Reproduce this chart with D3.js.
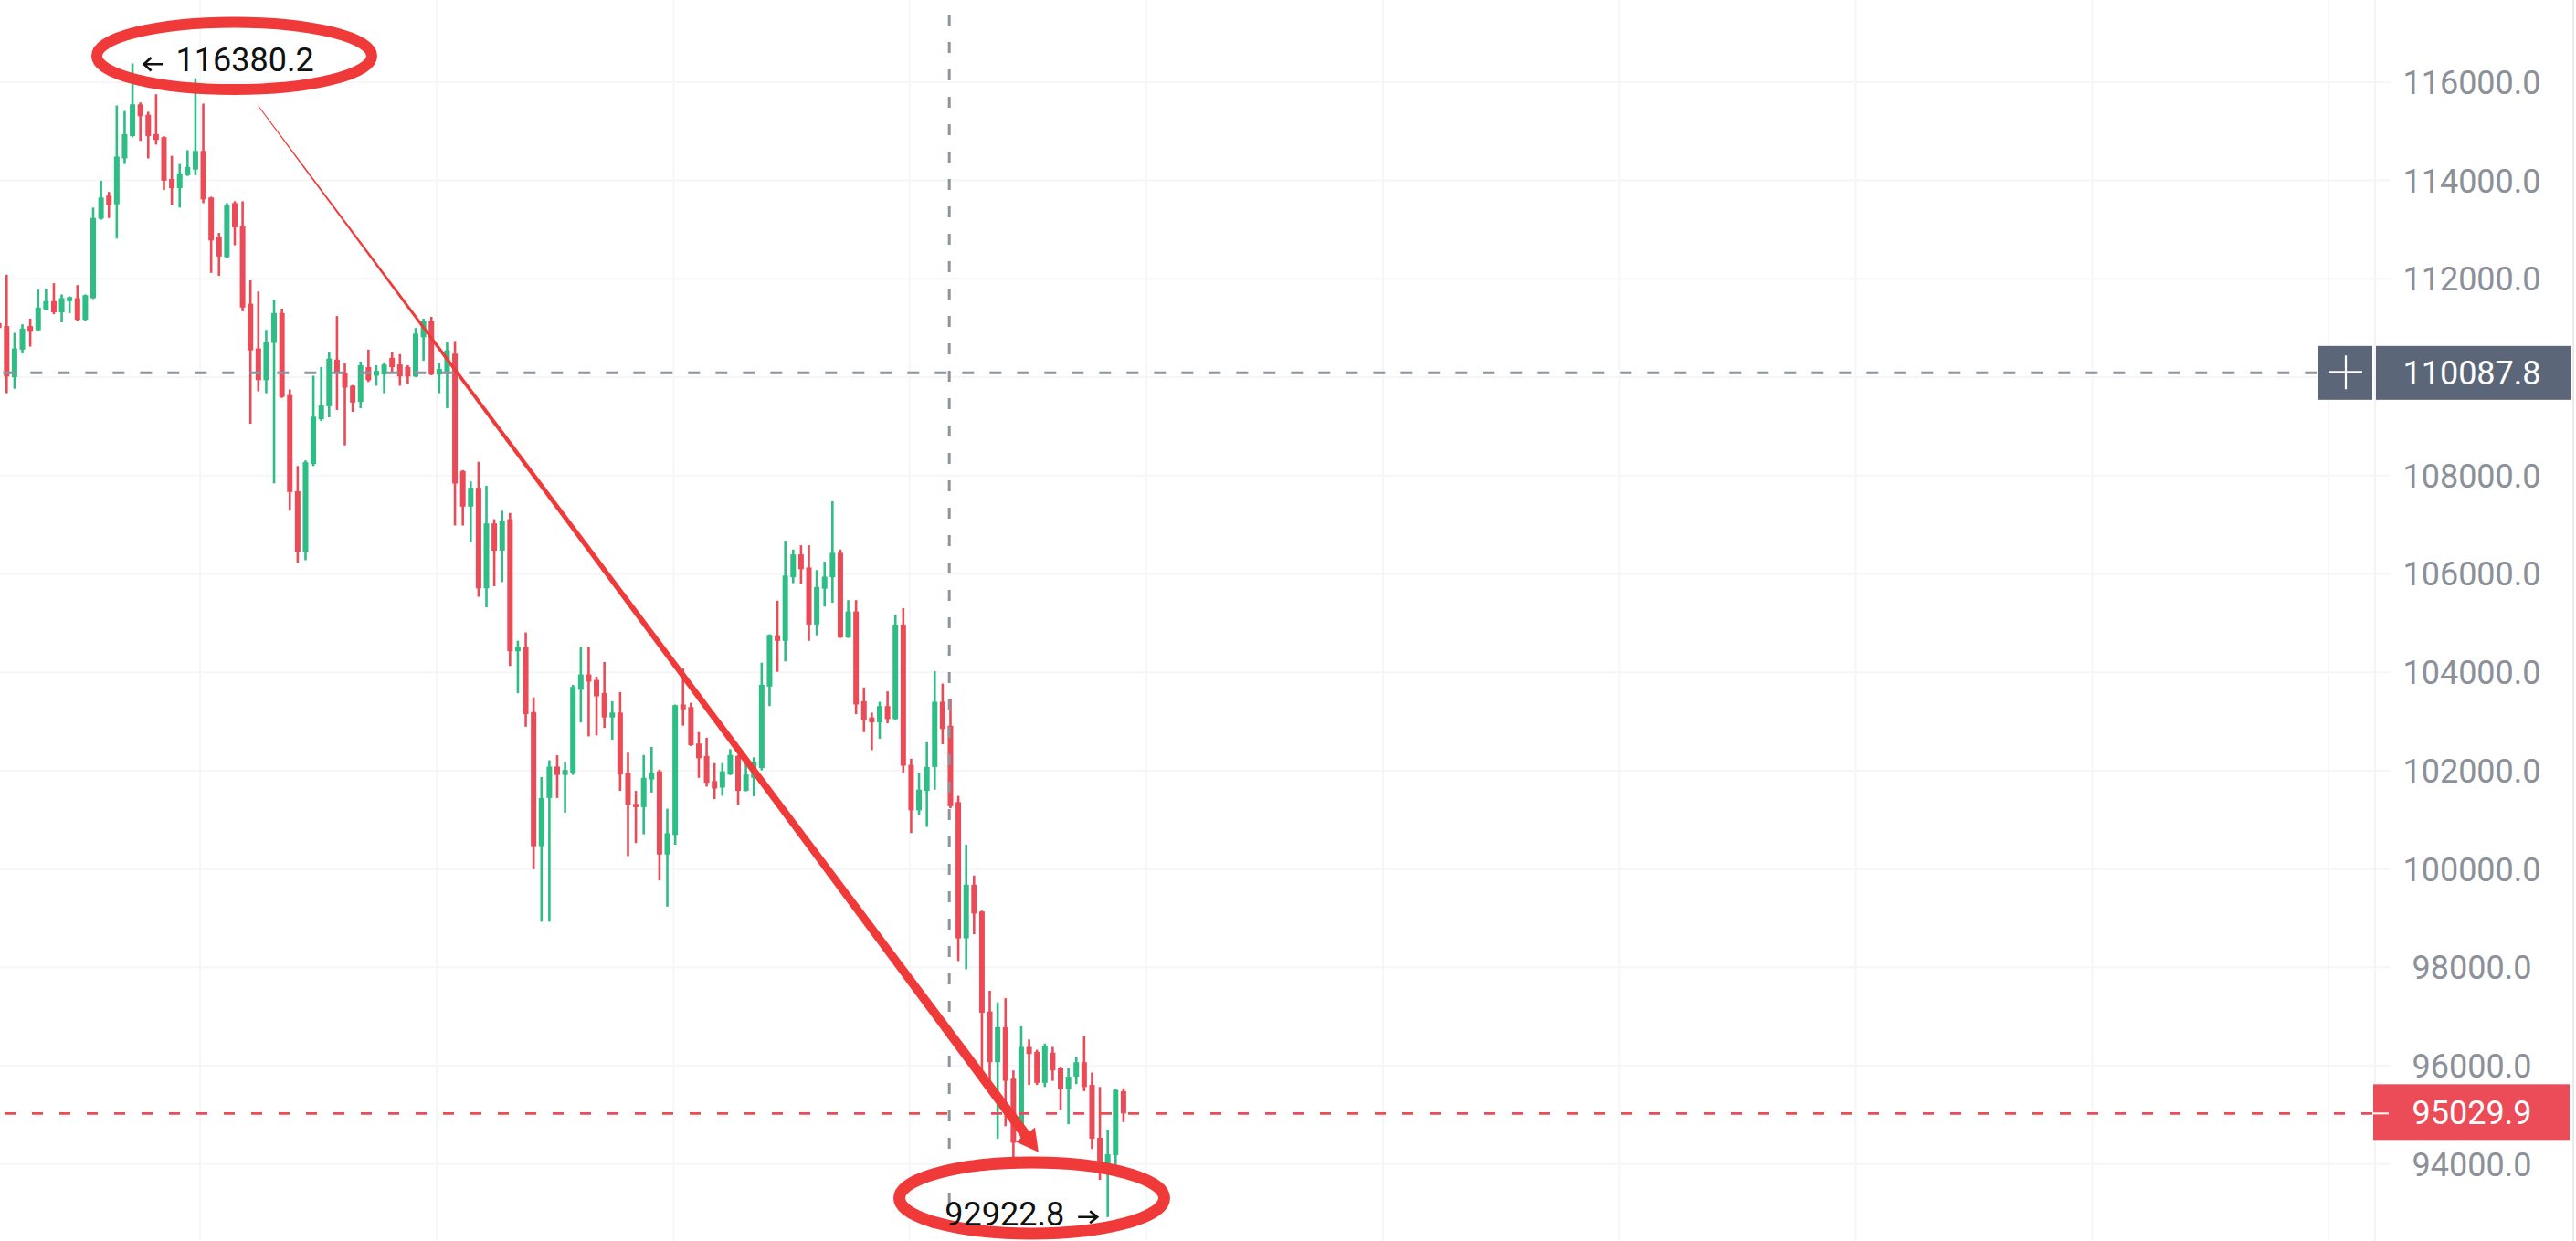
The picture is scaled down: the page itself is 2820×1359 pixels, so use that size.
<!DOCTYPE html>
<html>
<head>
<meta charset="utf-8">
<script src="https://cdn.jsdelivr.net/npm/d3@7"></script>
<style>
  html, body { margin: 0; padding: 0; background: #ffffff; overflow: hidden; }
  svg { display: block; }
</style>
</head>
<body>
<svg id="chart" width="2820" height="1359"></svg>
<script>
// ---------------- DATA ----------------
// candle index of the first entry (partially visible candle at the left edge)
const firstIndex = -1;

const opens = [
  111100, 111038, 110000, 110561, 111038, 110955, 111379, 111546, 111319, 111546,
  111607, 111167, 111607, 113221, 113691, 113516, 114448, 114903, 115547, 115335,
  114941, 114880, 114031, 113842, 114107, 114221, 114600, 113653, 112857, 112440,
  113539, 113084, 111493, 110584, 109939, 110697, 111304, 109636, 107681, 106453,
  108234, 109144, 109409, 110356, 110091, 109826, 109500, 110205, 110030, 110053,
  110394, 110258, 110205, 110015, 110811, 111152, 110053, 110091, 110479, 108093,
  107368, 107752, 105706, 107027, 106473, 107112, 104427, 104513, 103191, 100464,
  101444, 102083, 101913, 101955, 103645, 103956, 103844, 103579, 103081, 103181,
  101954, 101324, 101258, 101821, 101987, 100296, 100694, 103346, 103293, 102551,
  102299, 101788, 101655, 101921, 102299, 101589, 101854, 102053, 103711, 104752,
  104639, 105932, 106397, 106131, 104971, 105700, 105933, 106430, 104706, 105236,
  103413, 103081, 102982, 103313, 103048, 104971, 102117, 101193, 101588, 102075,
  103401, 102914, 101361, 98590, 99682, 99136, 97104, 96072, 96785, 95736,
  94770, 96382, 96282, 95652, 96265, 95946, 95526, 95778, 96072, 95610,
  94535, 93972, 94183, 95484
];
const highs = [
  111150, 112084, 110902, 111076, 111190, 111781, 111796, 111910, 111682, 111645,
  111872, 111682, 113448, 113994, 113766, 115524, 115411, 116380.2, 115585, 115396,
  115752, 114900, 114501, 114335, 114615, 116078, 115562, 113670, 112933, 113539,
  113577, 113577, 111970, 111743, 110963, 111569, 111394, 109750, 108194, 108308,
  110030, 110205, 110508, 111243, 110280, 109840, 110318, 110561, 110243, 110303,
  110508, 110470, 110243, 111000, 111190, 111228, 110280, 110712, 110735, 108110,
  107880, 108280, 107794, 107112, 107283, 107240, 104641, 104811, 103490, 101870,
  102211, 102313, 102168, 103746, 104510, 104510, 103910, 104208, 103413, 103598,
  102365, 101589, 102319, 102484, 102020, 101225, 103346, 104076, 103380, 102783,
  102670, 102153, 102153, 102438, 102319, 102252, 102272, 104195, 104772, 105455,
  106675, 106496, 106582, 106582, 106078, 106251, 107478, 106496, 105468, 105468,
  103691, 103181, 103399, 103612, 105170, 105303, 102243, 101949, 102578, 104023,
  103771, 103460, 101487, 100496, 99867, 99153, 97524, 97289, 97373, 95904,
  96802, 96534, 96324, 96450, 96382, 95962, 95946, 96181, 96601, 95862,
  95568, 94703, 95526, 95542
];
const lows = [
  110950, 109674, 109765, 110485, 110622, 110940, 111357, 111281, 111114, 111303,
  111150, 111152, 111590, 113200, 113236, 112819, 114335, 114880, 114805, 114448,
  114729, 113804, 113501, 113448, 114090, 114107, 113539, 112122, 112061, 112420,
  112683, 111341, 109053, 109712, 109674, 107840, 109580, 107287, 106226, 106279,
  108194, 109106, 109182, 109333, 108614, 109295, 109371, 109902, 109826, 109674,
  110091, 109826, 109864, 110000, 110334, 110040, 109674, 109371, 106985, 106985,
  106643, 105535, 105322, 105749, 105834, 104129, 103575, 102893, 99995, 98929,
  98929, 101444, 101146, 101913, 102980, 102697, 102717, 102869, 102630, 101589,
  100263, 100528, 100707, 101556, 99766, 99235, 100495, 102915, 102498, 101854,
  101675, 101423, 101490, 101910, 101304, 101580, 101477, 102007, 103313, 104010,
  104222, 105813, 105800, 104639, 104752, 105336, 105415, 104700, 104700, 103148,
  102783, 102418, 102650, 102962, 103028, 101954, 100731, 101109, 100857, 101613,
  102537, 101235, 98129, 97961, 98674, 95904, 95610, 94518, 94770, 94141,
  94518, 95610, 95610, 95568, 95694, 95106, 94812, 95627, 95484, 94308,
  93679, 92922.8, 93850, 94854
];
const closes = [
  111000, 110015, 110584, 110985, 110925, 111417, 111546, 111319, 111607, 111629,
  111167, 111667, 113236, 113653, 113501, 114486, 114941, 115547, 115305, 114903,
  114827, 113994, 113842, 114145, 114274, 114600, 113615, 112781, 112455, 113501,
  113047, 111417, 110546, 109939, 110713, 111304, 109599, 107666, 106453, 108272,
  109197, 109424, 110379, 110091, 109788, 109485, 110243, 109939, 110129, 110258,
  110205, 110015, 110015, 110887, 111152, 110053, 110167, 110546, 107837, 107368,
  107752, 105706, 107027, 106473, 107087, 104427, 104513, 103149, 100464, 101444,
  102083, 101913, 102015, 103703, 103956, 103811, 103512, 103081, 103181, 101921,
  101304, 101258, 101854, 101954, 100296, 100727, 103330, 103247, 102518, 102252,
  101755, 101636, 101987, 102319, 101589, 101921, 102186, 103744, 104760, 104639,
  105966, 106397, 106098, 104971, 105734, 105946, 106430, 104706, 105236, 103346,
  103028, 102982, 103313, 103048, 104971, 102100, 101193, 101613, 102075, 103401,
  102847, 101277, 98590, 99682, 99094, 97079, 96072, 96785, 95694, 94434,
  96382, 96240, 95652, 96408, 95904, 95526, 95778, 96072, 95568, 94518,
  93972, 94199, 95509, 95029.9
];

const yTicks = [116000, 114000, 112000, 110000, 108000, 106000, 104000, 102000, 100000, 98000, 96000, 94000];
const yTickLabels = ["116000.0", "114000.0", "112000.0", "110000.0", "108000.0", "106000.0",
                     "104000.0", "102000.0", "100000.0", "98000.0", "96000.0", "94000.0"];
// 110000 label is hidden behind the crosshair price tag
const hiddenTicks = [110000];

const gridIndices = [24.6, 54.7, 84.8, 114.8, 144.9, 175.0, 205.0, 235.1, 265.2, 295.2];

const lastPrice = 95029.9;
const lastPriceLabel = "95029.9";
const crosshairPrice = 110087.8;
const crosshairLabel = "110087.8";
const crosshairIndex = 119.85;

const highMark = { index: 16, price: 116380.2, label: "116380.2" };
const lowMark  = { index: 140, price: 92922.8, label: "92922.8" };

const trendArrow = { from: { index: 32.0, price: 115515 }, to: { index: 131.2, price: 94240 } };
const ellipses = [
  { index: 28.94, price: 116533, rx: 150.5, ry: 36.8, sw: 12 },
  { index: 130.34, price: 93309, rx: 145, ry: 39, sw: 13 }
];

// ---------------- STYLE ----------------
const W = 2820, H = 1359;
const UP = "#2ebd85", DOWN = "#eb4a57";
const MARK_RED = "#f03a3a";
const AXIS_TEXT = "#8b9099";
const GRID = "#f5f6f8";
const font = "Roboto, 'Noto Sans', 'DejaVu Sans', sans-serif";

// ---------------- SCALES ----------------
const x = d3.scaleLinear().domain([0, 142]).range([7.3, 1229.9]);
const y = d3.scaleLinear().domain([94000, 116000]).range([1274.8, 89.9]);
const bodyW = 6, wickW = 2.6;
const axisX = 2600, labelCX = 2706;

const candles = opens.map((o, k) => ({
  i: firstIndex + k, o, h: highs[k], l: lows[k], c: closes[k]
}));

const svg = d3.select("#chart");
svg.append("rect").attr("width", W).attr("height", H).attr("fill", "#fff");

// ---------------- GRID ----------------
const grid = svg.append("g");
grid.selectAll("line.h").data(yTicks).join("line")
  .attr("x1", 0).attr("x2", 2617)
  .attr("y1", d => y(d)).attr("y2", d => y(d))
  .attr("stroke", GRID).attr("stroke-width", 2);
grid.selectAll("line.v").data(gridIndices).join("line")
  .attr("x1", d => x(d)).attr("x2", d => x(d))
  .attr("y1", 0).attr("y2", H)
  .attr("stroke", GRID).attr("stroke-width", 2);
grid.append("line").attr("x1", axisX).attr("x2", axisX).attr("y1", 0).attr("y2", H)
  .attr("stroke", "#f3f4f6").attr("stroke-width", 2);
grid.append("line").attr("x1", 2817).attr("x2", 2817).attr("y1", 0).attr("y2", H)
  .attr("stroke", "#e8eaee").attr("stroke-width", 2);

// ---------------- CANDLES ----------------
const plot = svg.append("g");
const cg = plot.selectAll("g.candle").data(candles).join("g")
  .attr("fill", d => d.c >= d.o ? UP : DOWN);
cg.append("rect")
  .attr("x", d => x(d.i) - wickW / 2).attr("width", wickW)
  .attr("y", d => y(d.h)).attr("height", d => Math.max(1, y(d.l) - y(d.h)));
cg.append("rect")
  .attr("x", d => x(d.i) - bodyW / 2).attr("width", bodyW)
  .attr("y", d => y(Math.max(d.o, d.c)))
  .attr("height", d => Math.max(2, Math.abs(y(d.o) - y(d.c))));

// ---------------- CROSSHAIR & LAST PRICE LINES ----------------
const cy = y(crosshairPrice), cx = x(crosshairIndex);
svg.append("line").attr("x1", 0).attr("x2", 2538).attr("y1", cy).attr("y2", cy)
  .attr("stroke", "#8e939c").attr("stroke-width", 3)
  .attr("stroke-dasharray", "13 17").attr("stroke-dashoffset", 26.7);
svg.append("line").attr("x1", cx).attr("x2", cx).attr("y1", 0).attr("y2", H)
  .attr("stroke", "#8e939c").attr("stroke-width", 3)
  .attr("stroke-dasharray", "12 18").attr("stroke-dashoffset", 14);
const ly = y(lastPrice);
svg.append("line").attr("x1", 0).attr("x2", axisX).attr("y1", ly).attr("y2", ly)
  .attr("stroke", DOWN).attr("stroke-width", 2.6)
  .attr("stroke-dasharray", "12 18").attr("stroke-dashoffset", 25);

// ---------------- ANNOTATIONS ----------------
const ann = svg.append("g");
// tapered trend arrow
(function () {
  const p0 = [x(trendArrow.from.index), y(trendArrow.from.price)];
  const tip = [x(trendArrow.to.index), y(trendArrow.to.price)];
  const dx = tip[0] - p0[0], dy = tip[1] - p0[1];
  const len = Math.hypot(dx, dy);
  const u = [dx / len, dy / len], n = [-u[1], u[0]];
  const headLen = 24, headHalf = 13, w0 = 1.0, w1 = 11;
  const base = [tip[0] - u[0] * headLen, tip[1] - u[1] * headLen];
  const inner = [tip[0] - u[0] * (headLen - 4), tip[1] - u[1] * (headLen - 4)];
  const shaft = [
    [p0[0] + n[0] * w0 / 2, p0[1] + n[1] * w0 / 2],
    [inner[0] + n[0] * w1 / 2, inner[1] + n[1] * w1 / 2],
    [inner[0] - n[0] * w1 / 2, inner[1] - n[1] * w1 / 2],
    [p0[0] - n[0] * w0 / 2, p0[1] - n[1] * w0 / 2]
  ];
  const head = [
    tip,
    [base[0] + n[0] * headHalf, base[1] + n[1] * headHalf],
    [base[0] - n[0] * headHalf, base[1] - n[1] * headHalf]
  ];
  const line = d3.line().curve(d3.curveLinearClosed);
  ann.append("path").attr("d", line(shaft)).attr("fill", MARK_RED);
  ann.append("path").attr("d", line(head)).attr("fill", MARK_RED);
})();

ann.selectAll("ellipse").data(ellipses).join("ellipse")
  .attr("cx", d => x(d.index)).attr("cy", d => y(d.price))
  .attr("rx", d => d.rx).attr("ry", d => d.ry)
  .attr("fill", "none").attr("stroke", MARK_RED).attr("stroke-width", d => d.sw);

// high label: "← 116380.2"
(function () {
  const hx = x(highMark.index), hy = y(highMark.price);
  const ax0 = hx + 12.5, ax1 = hx + 33;
  ann.append("path")
    .attr("d", `M${ax1},${hy + 0.8} H${ax0 + 1} M${ax0 + 8},${hy - 6.5} L${ax0},${hy + 0.8} L${ax0 + 8},${hy + 8}`)
    .attr("fill", "none").attr("stroke", "#111").attr("stroke-width", 2.6);
  ann.append("text").attr("x", hx + 47.5).attr("y", hy + 8.2)
    .attr("font-family", font).attr("font-size", 36).attr("fill", "#111")
    .text(highMark.label);
})();
// low label: "92922.8 →"
(function () {
  const lx = x(lowMark.index), lyy = y(lowMark.price);
  const a1 = lx - 11.5, a0 = lx - 32.5;
  ann.append("path")
    .attr("d", `M${a0},${lyy} H${a1 - 1} M${a1 - 8},${lyy - 6.5} L${a1},${lyy} L${a1 - 8},${lyy + 6.5}`)
    .attr("fill", "none").attr("stroke", "#111").attr("stroke-width", 2.6);
  ann.append("text").attr("x", lx - 47.5).attr("y", lyy + 9)
    .attr("text-anchor", "end")
    .attr("font-family", font).attr("font-size", 36).attr("fill", "#111")
    .text(lowMark.label);
})();

// ---------------- PRICE AXIS ----------------
const axisG = svg.append("g");
axisG.selectAll("text.tick").data(yTicks.map((v, k) => ({ v, t: yTickLabels[k] }))
  .filter(d => !hiddenTicks.includes(d.v))).join("text")
  .attr("x", labelCX).attr("y", d => y(d.v)).attr("dy", "0.36em")
  .attr("text-anchor", "middle")
  .attr("font-family", font).attr("font-size", 36).attr("fill", AXIS_TEXT)
  .text(d => d.t);

// crosshair price tag
axisG.append("rect").attr("x", 2538).attr("y", cy - 29.5).attr("width", 59).attr("height", 59)
  .attr("fill", "#5c6679");
axisG.append("path")
  .attr("d", `M${2550},${cy - 1} H${2586} M${2568},${cy - 19} V${cy + 18}`)
  .attr("stroke", "#fff").attr("stroke-width", 2.2);
axisG.append("rect").attr("x", 2601).attr("y", cy - 29.5).attr("width", 213).attr("height", 59)
  .attr("fill", "#5c6679");
axisG.append("text").attr("x", labelCX).attr("y", cy).attr("dy", "0.36em")
  .attr("text-anchor", "middle")
  .attr("font-family", font).attr("font-size", 36).attr("fill", "#fff")
  .text(crosshairLabel);

// last price tag
axisG.append("rect").attr("x", 2598).attr("y", ly - 32).attr("width", 215).attr("height", 61)
  .attr("fill", "#ec4c58");
axisG.append("line").attr("x1", 2598).attr("x2", 2615).attr("y1", ly).attr("y2", ly)
  .attr("stroke", "#fff").attr("stroke-width", 2);
axisG.append("text").attr("x", labelCX).attr("y", ly - 1.5).attr("dy", "0.36em")
  .attr("text-anchor", "middle")
  .attr("font-family", font).attr("font-size", 36).attr("fill", "#fff")
  .text(lastPriceLabel);
</script>
</body>
</html>
